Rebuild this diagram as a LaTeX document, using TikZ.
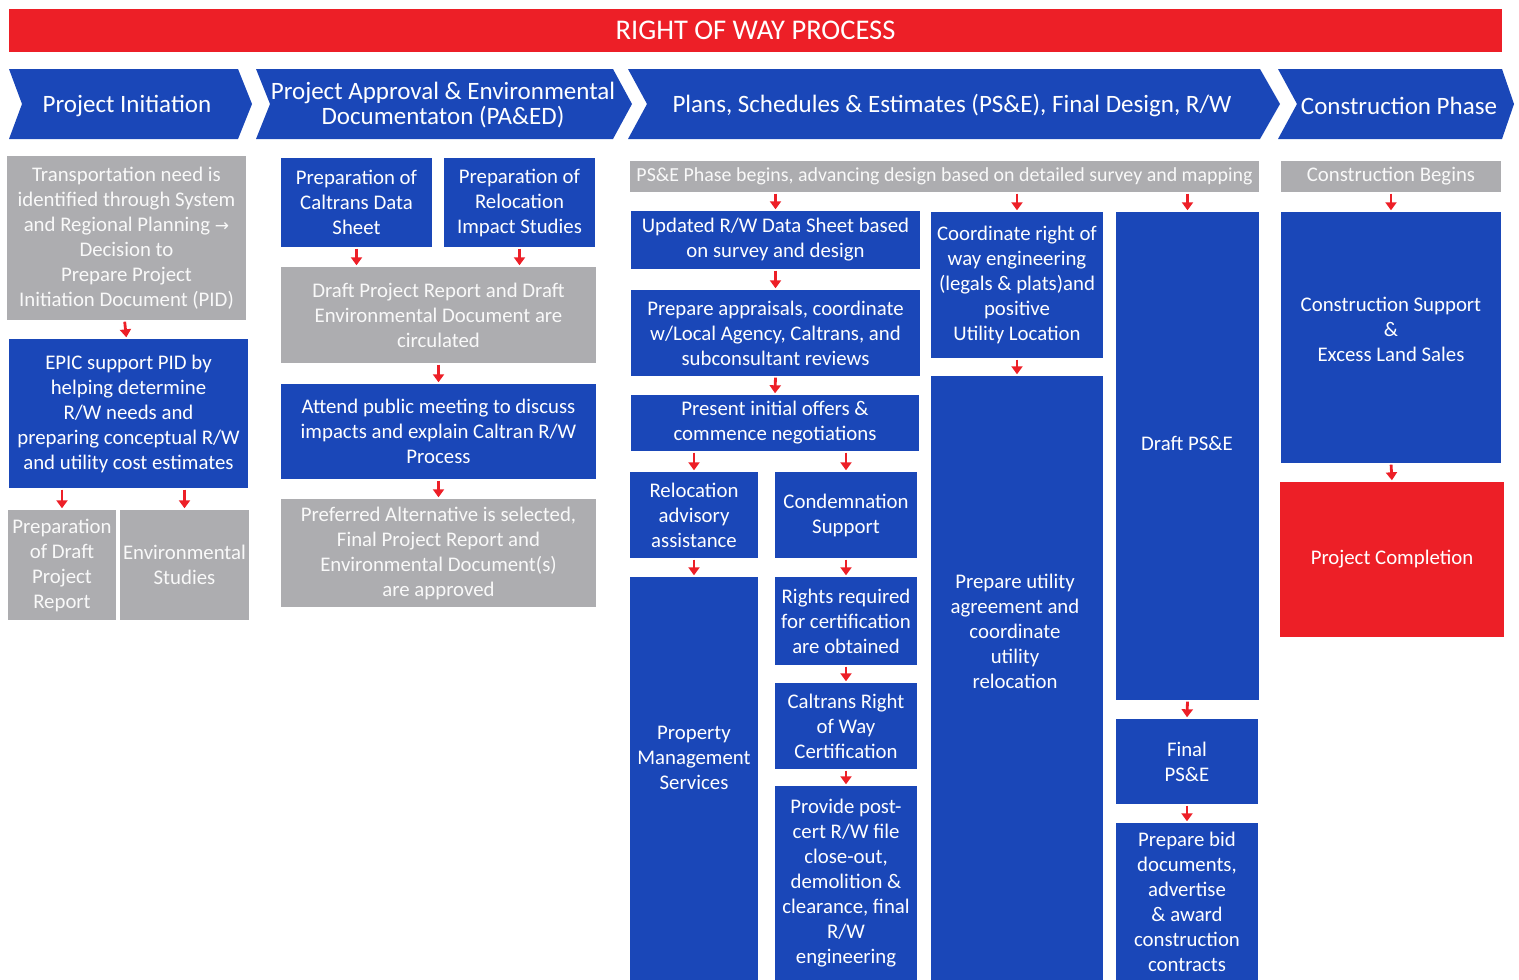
\documentclass[tikz,border=0pt]{standalone}
\usepackage{fontspec}
\setmainfont{Carlito}
\newfontfamily\symfont{DejaVu Sans}
\usetikzlibrary{arrows.meta}
\definecolor{rowblue}{HTML}{1A47B8}
\definecolor{rowred}{HTML}{ED1F27}
\definecolor{rowgrey}{HTML}{ADADB0}
\newcommand\bx[7]{\node[#2, minimum width={(#5-#3)*1pt}, minimum height={(#6-#4)*1pt}] (#1) at ({(#3+#5)/2},{(#4+#6)/2}) {#7};}
\begin{document}
\begin{tikzpicture}[x=1pt,y=-1pt,
  box/.style={rectangle, inner sep=0pt, align=center, text=white, font=\fontsize{20.8}{25}\selectfont},
  bluebox/.style={box, fill=rowblue},
  greybox/.style={box, fill=rowgrey, text=white!95!gray},
  redbox/.style={box, fill=rowred},
  txt/.style={align=center, text=white, inner sep=0pt, font=\fontsize{20.8}{25}\selectfont},
  arr/.style={draw=rowred, line width=2.8pt, -{Triangle[width=11pt,length=8pt]}, shorten <=1.5pt, shorten >=1.5pt},
  chev/.style={fill=rowblue},
  head/.style={text=white, align=center, inner sep=0pt, font=\fontsize{25}{25}\selectfont}]
\useasboundingbox (0,0) rectangle (1519,980);

% title
\bx{title}{redbox, font=\fontsize{28.5}{30}\selectfont}{9}{9}{1502}{52}{RIGHT OF WAY PROCESS}

% chevrons
\fill[chev] (9,69) -- (238,69) -- (252,104) -- (238,139) -- (9,139) -- (22,104) -- cycle;
\fill[chev] (256,69) -- (613,69) -- (632,104) -- (613,139) -- (256,139) -- (270,104) -- cycle;
\fill[chev] (628,69) -- (1260,69) -- (1280,104) -- (1260,139) -- (628,139) -- (647,104) -- cycle;
\fill[chev] (1278,69) -- (1502,69) -- (1514,104) -- (1502,139) -- (1278,139) -- (1297,104) -- cycle;
\node[head] (h1) at (127,106) {Project Initiation};
\node[head] (h2) at (443,105) {Project Approval \& Environmental\\Documentaton (PA\&ED)};
\node[head] (h3) at (952,106) {Plans, Schedules \& Estimates (PS\&E), Final Design, R/W};
\node[head] (h4) at (1399,106) {Construction Phase};

% column 1
\bx{c1a}{greybox}{7}{156}{246}{320}{Transportation need is\\identified through System\\and Regional Planning {\symfont\fontsize{17}{25}\selectfont →}\\Decision to\\Prepare Project\\Initiation Document (PID)}
\bx{c1b}{bluebox}{9}{339}{248}{488}{EPIC support PID by\\helping determine\\R/W needs and\\preparing conceptual R/W\\and utility cost estimates}
\bx{c1c}{greybox}{8}{510}{116}{620}{Preparation\\of Draft\\Project\\Report}
\bx{c1d}{greybox}{120}{510}{249}{620}{Environmental\\Studies}

% column 2
\bx{c2a}{bluebox}{281}{158}{432}{247}{Preparation of\\Caltrans Data\\Sheet}
\bx{c2b}{bluebox}{444}{158}{595}{247}{Preparation of\\Relocation\\Impact Studies}
\bx{c2c}{greybox}{281}{267}{596}{363}{Draft Project Report and Draft\\Environmental Document are\\circulated}
\bx{c2d}{bluebox}{281}{384}{596}{479}{Attend public meeting to discuss\\impacts and explain Caltran R/W\\Process}
\bx{c2e}{greybox}{281}{499}{596}{607}{Preferred Alternative is selected,\\Final Project Report and\\Environmental Document(s)\\are approved}

% column 3
\bx{c3a}{greybox, font=\fontsize{19.9}{25}\selectfont}{630}{161}{1259}{192}{PS\&E Phase begins, advancing design based on detailed survey and mapping}
\bx{c3b}{bluebox}{631}{211}{920}{269}{Updated R/W Data Sheet based\\on survey and design}
\bx{c3c}{bluebox}{631}{290}{920}{376}{Prepare appraisals, coordinate\\w/Local Agency, Caltrans, and\\subconsultant reviews}
\bx{c3d}{bluebox}{631}{395}{919}{451}{Present initial offers \&\\commence negotiations}
\bx{c3e}{bluebox}{630}{472}{758}{558}{Relocation\\advisory\\assistance}
\bx{c3f}{bluebox}{775}{472}{917}{558}{Condemnation\\Support}
\bx{c3g}{bluebox}{630}{577}{758}{980}{}
\node[txt] (c3gt) at (694,758) {Property\\Management\\Services};
\bx{c3h}{bluebox}{775}{577}{917}{665}{Rights required\\for certification\\are obtained}
\bx{c3i}{bluebox}{775}{683}{917}{769}{Caltrans Right\\of Way\\Certification}
\bx{c3j}{bluebox}{775}{786}{917}{980}{Provide post-\\cert R/W file\\close-out,\\demolition \&\\clearance, final\\R/W\\engineering}

% column 4
\bx{c4a}{bluebox}{931}{212}{1103}{358}{Coordinate right of\\way engineering\\(legals \& plats)and\\positive\\Utility Location}
\bx{c4b}{bluebox}{931}{376}{1103}{980}{}
\node[txt] (c4bt) at (1015,631) {Prepare utility\\agreement and\\coordinate\\utility\\relocation};

% column 5
\bx{c5a}{bluebox}{1116}{212}{1259}{700}{}
\node[txt] (c5at) at (1187,443) {Draft PS\&E};
\bx{c5b}{bluebox}{1116}{719}{1258}{804}{Final\\PS\&E}
\bx{c5c}{bluebox}{1116}{823}{1258}{980}{Prepare bid\\documents,\\advertise\\\& award\\construction\\contracts}

% column 6
\bx{c6a}{greybox}{1281}{161}{1501}{192}{Construction Begins}
\bx{c6b}{bluebox}{1281}{212}{1501}{463}{}
\node[txt] (c6bt) at (1391,329) {Construction Support\\\&\\Excess Land Sales};
\bx{c6c}{redbox}{1280}{482}{1504}{637}{Project Completion}

% arrows
\draw[arr] ([xshift=-2pt]c1a.south) -- ([xshift=-2pt]c1b.north);
\draw[arr] (c1b.south -| c1c.north) -- (c1c.north);
\draw[arr] (c1b.south -| c1d.north) -- (c1d.north);
\draw[arr] (c2a.south) -- (c2a.south |- c2c.north);
\draw[arr] (c2b.south) -- (c2b.south |- c2c.north);
\draw[arr] (c2c.south) -- (c2d.north);
\draw[arr] (c2d.south) -- (c2e.north);
\draw[arr] (c3a.south -| c3b.north) -- (c3b.north);
\draw[arr] (c3a.south -| c4a.north) -- (c4a.north);
\draw[arr] (c3a.south -| c5a.north) -- (c5a.north);
\draw[arr] (c3b.south) -- (c3c.north);
\draw[arr] (c3c.south) -- (c3d.north);
\draw[arr] (c3d.south -| c3e.north) -- (c3e.north);
\draw[arr] (c3d.south -| c3f.north) -- (c3f.north);
\draw[arr] (c3e.south) -- (c3g.north);
\draw[arr] (c3f.south) -- (c3h.north);
\draw[arr] (c3h.south) -- (c3i.north);
\draw[arr] (c3i.south) -- (c3j.north);
\draw[arr] (c4a.south) -- (c4b.north);
\draw[arr] (c5a.south) -- (c5b.north);
\draw[arr] (c5b.south) -- (c5c.north);
\draw[arr] (c6a.south) -- (c6b.north);
\draw[arr] (c6b.south) -- (c6c.north);
\end{tikzpicture}
\end{document}
